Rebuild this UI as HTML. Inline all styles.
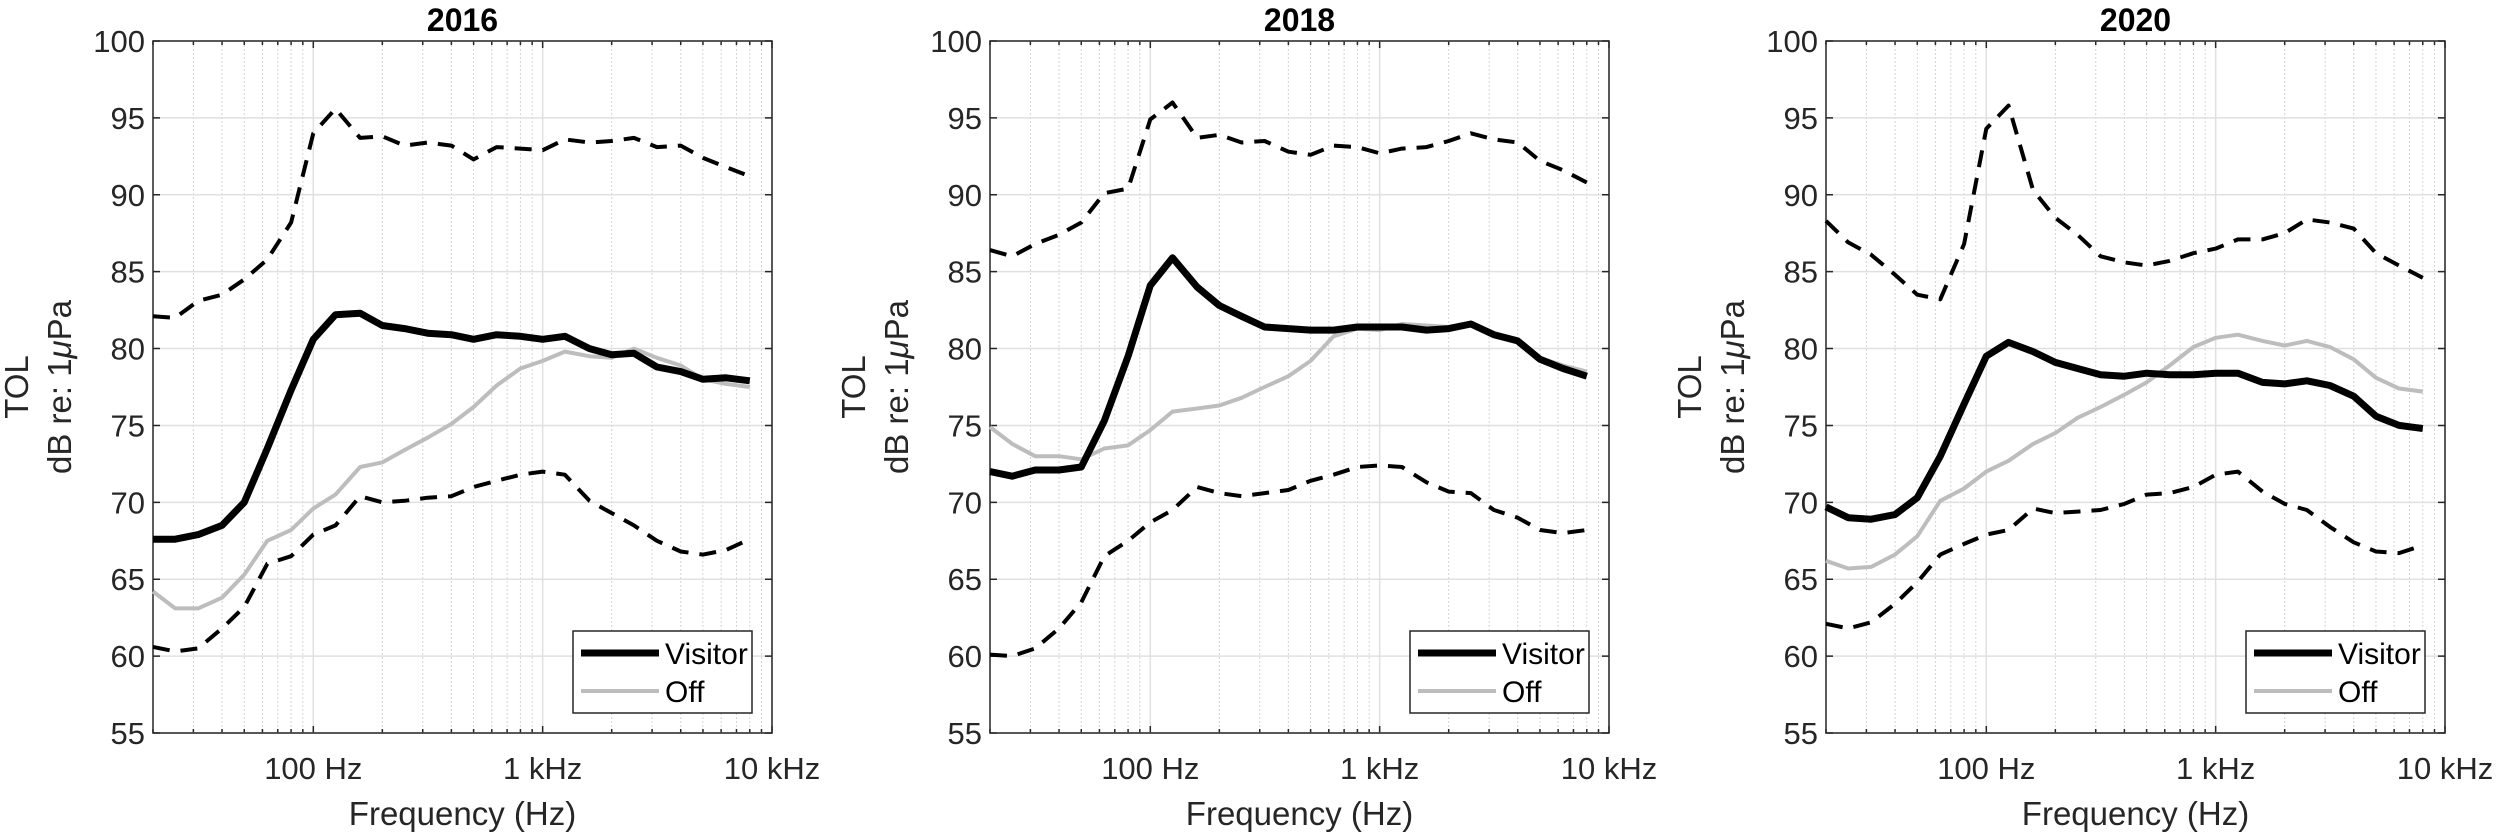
<!DOCTYPE html>
<html><head><meta charset="utf-8"><style>
html,body{margin:0;padding:0;background:#fff;}
svg{display:block;font-family:"Liberation Sans",Arial,sans-serif;}
</style></head><body>
<svg id="chart" width="2500" height="835" viewBox="0 0 2500 835" xmlns="http://www.w3.org/2000/svg"></svg>
<script>
const freqs=[20,25,31.5,40,50,63,80,100,125,160,200,250,315,400,500,630,800,1000,1250,1600,2000,2500,3150,4000,5000,6300,8000];
const years=["2016","2018","2020"];
const yTicks=[55,60,65,70,75,80,85,90,95,100];
const xTickVals=[100,1000,10000];
const xTickLabels=["100 Hz","1 kHz","10 kHz"];
const visitor2016=[67.6,67.6,67.9,68.5,70,73.5,77.3,80.6,82.2,82.3,81.5,81.3,81,80.9,80.6,80.9,80.8,80.6,80.8,80,79.6,79.7,78.8,78.5,78,78.1,77.9];
const off2016=[64.2,63.1,63.1,63.8,65.3,67.5,68.2,69.6,70.5,72.3,72.6,73.4,74.2,75.1,76.2,77.6,78.7,79.2,79.8,79.5,79.4,80,79.4,78.9,78,77.7,77.5];
const upper2016=[82.1,82,83.1,83.5,84.5,85.8,88.2,94,95.6,93.7,93.8,93.2,93.4,93.2,92.3,93.1,93,92.9,93.6,93.4,93.5,93.7,93.1,93.2,92.4,91.8,91.2];
const lower2016=[60.6,60.3,60.5,61.8,63.2,66,66.5,67.9,68.5,70.4,70,70.1,70.3,70.4,71,71.4,71.8,72,71.8,70.1,69.3,68.5,67.5,66.8,66.6,66.9,67.6];
const visitor2018=[72,71.7,72.1,72.1,72.3,75.3,79.5,84.1,85.9,84,82.8,82.1,81.4,81.3,81.2,81.2,81.4,81.4,81.4,81.2,81.3,81.6,80.9,80.5,79.3,78.7,78.2];
const off2018=[74.9,73.8,73,73,72.8,73.5,73.7,74.7,75.9,76.1,76.3,76.8,77.5,78.2,79.2,80.8,81.3,81.2,81.6,81.5,81.4,81.5,81,80.6,79.4,78.9,78.5];
const upper2018=[86.4,86,86.8,87.4,88.2,90.1,90.4,94.9,96,93.7,93.9,93.4,93.5,92.8,92.6,93.2,93.1,92.7,93,93.1,93.5,94,93.6,93.4,92.2,91.6,90.8];
const lower2018=[60.1,60,60.5,61.8,63.5,66.5,67.5,68.7,69.5,71,70.6,70.4,70.6,70.8,71.4,71.8,72.3,72.4,72.3,71.3,70.7,70.6,69.5,69,68.2,68,68.2];
const visitor2020=[69.7,69,68.9,69.2,70.3,73,76.4,79.5,80.4,79.8,79.1,78.7,78.3,78.2,78.4,78.3,78.3,78.4,78.4,77.8,77.7,77.9,77.6,76.9,75.6,75,74.8];
const off2020=[66.2,65.7,65.8,66.6,67.8,70.1,70.9,72,72.7,73.8,74.5,75.5,76.2,77,77.8,78.9,80.1,80.7,80.9,80.5,80.2,80.5,80.1,79.3,78.1,77.4,77.2];
const upper2020=[88.3,86.9,86.1,84.8,83.5,83.2,86.8,94.3,95.8,90.3,88.5,87.4,86,85.6,85.4,85.7,86.2,86.5,87.1,87.1,87.5,88.4,88.2,87.8,86.2,85.4,84.6];
const lower2020=[62.1,61.8,62.2,63.4,64.8,66.6,67.3,67.9,68.2,69.6,69.3,69.4,69.5,69.9,70.5,70.6,71,71.8,72,70.7,69.9,69.5,68.4,67.4,66.8,66.7,67.2];
const panelsData=[[visitor2016,off2016,upper2016,lower2016],[visitor2018,off2018,upper2018,lower2018],[visitor2020,off2020,upper2020,lower2020]];
const lefts=[153,990,1826];
const W=619,TOP=41,BOT=733,XMIN=20,XMAX=10000,YMIN=55,YMAX=100;
const NS="http://www.w3.org/2000/svg";
const svg=document.getElementById('chart');
function mk(tag,attrs,parent){const e=document.createElementNS(NS,tag);for(const k in attrs)e.setAttribute(k,attrs[k]);(parent||svg).appendChild(e);return e;}
years.forEach((yr,p)=>{
  const L=lefts[p];
  const xs=f=>L+(Math.log10(f)-Math.log10(XMIN))/(Math.log10(XMAX)-Math.log10(XMIN))*W;
  const ys=v=>BOT-(v-YMIN)/(YMAX-YMIN)*(BOT-TOP);
  const g=mk('g',{});
  
  
  for(let d=10;d<10000;d*=10){for(let m=2;m<10;m++){const f=d*m;if(f<XMIN||f>XMAX)continue;
    const l=mk('line',{x1:xs(f),x2:xs(f),y1:TOP,y2:BOT,stroke:'#d4d4d4','stroke-width':1,'stroke-dasharray':'2,2'},g);
    
    
    const tk=mk('path',{d:`M${xs(f)},${BOT}v-4M${xs(f)},${TOP}v4`,stroke:'#262626','stroke-width':1.5},g);
    
    }}
  xTickVals.forEach((f,i)=>{
    const l=mk('line',{x1:xs(f),x2:xs(f),y1:TOP,y2:BOT,stroke:'#e0e0e0','stroke-width':1.5},g);
    
    
    const tk=mk('path',{d:`M${xs(f)},${BOT}v-7M${xs(f)},${TOP}v7`,stroke:'#262626','stroke-width':1.5},g);
    
    
    const t=mk('text',{x:xs(f),y:779,'font-size':31,'text-anchor':'middle',fill:'#262626'},g);
    t.textContent=xTickLabels[i];
    
    
  });
  yTicks.forEach(v=>{
    const l=mk('line',{x1:L,x2:L+W,y1:ys(v),y2:ys(v),stroke:'#e0e0e0','stroke-width':1.5},g);
    
    
    const tk=mk('path',{d:`M${L},${ys(v)}h7M${L+W},${ys(v)}h-7`,stroke:'#262626','stroke-width':1.5},g);
    
    
    const t=mk('text',{x:L-8,y:ys(v)+11,'font-size':31,'text-anchor':'end',fill:'#262626'},g);
    t.textContent=v;
    
    
  });
  const box=mk('rect',{x:L,y:TOP,width:W,height:BOT-TOP,fill:'none',stroke:'#262626','stroke-width':1.5},g);
  
  
  const d=panelsData[p];
  const styles=[{stroke:'#000','stroke-width':7,name:'visitor-line'},{stroke:'#bdbdbd','stroke-width':4,name:'off-line'},{stroke:'#000','stroke-width':4,'stroke-dasharray':'17,11',name:'upper-percentile-line'},{stroke:'#000','stroke-width':4,'stroke-dasharray':'17,11',name:'lower-percentile-line'}];
  [2,3,1,0].forEach(si=>{
    const s=styles[si];
    const pts=d[si].map((v,i)=>xs(freqs[i]).toFixed(1)+','+ys(v).toFixed(1)).join(' ');
    const a={points:pts,fill:'none',stroke:s.stroke,'stroke-width':s['stroke-width'],'stroke-linejoin':'round'};
    if(s['stroke-dasharray'])a['stroke-dasharray']=s['stroke-dasharray'];
    const pl=mk('polyline',a,g);
    
    
  });
  const lx=L+W-199,ly=BOT-102;
  const lg=mk('g',{},g);
  
  
  mk('rect',{x:lx,y:ly,width:179,height:82,fill:'#fff',stroke:'#262626','stroke-width':1.5},lg);
  const e1=mk('line',{x1:lx+8,x2:lx+86,y1:ly+22,y2:ly+22,stroke:'#000','stroke-width':7},lg);
  
  
  const t1=mk('text',{x:lx+92,y:ly+33,'font-size':30,fill:'#000'},lg);t1.textContent='Visitor';
  
  
  const e2=mk('line',{x1:lx+8,x2:lx+86,y1:ly+60,y2:ly+60,stroke:'#bdbdbd','stroke-width':4},lg);
  
  
  const t2=mk('text',{x:lx+92,y:ly+71,'font-size':30,fill:'#000'},lg);t2.textContent='Off';
  
  
  const tt=mk('text',{x:L+W/2,y:31,'font-size':32,'font-weight':'bold','text-anchor':'middle',fill:'#000'},g);
  tt.textContent=yr;
  
  
  const xl=mk('text',{x:L+W/2,y:825,'font-size':33,'text-anchor':'middle',fill:'#262626'},g);
  xl.textContent='Frequency (Hz)';
  
  
  const cy=(TOP+BOT)/2;
  const y1=mk('text',{x:0,y:0,'font-size':33,'text-anchor':'middle',fill:'#262626',transform:`translate(${L-125},${cy}) rotate(-90)`},g);
  y1.textContent='TOL';
  
  
  const y2=mk('text',{x:0,y:0,'font-size':33,'text-anchor':'middle',fill:'#262626',transform:`translate(${L-82},${cy}) rotate(-90)`},g);
  y2.innerHTML='dB re: 1<tspan font-style="italic">μ</tspan>Pa';
  
  
});
</script>
</body></html>
